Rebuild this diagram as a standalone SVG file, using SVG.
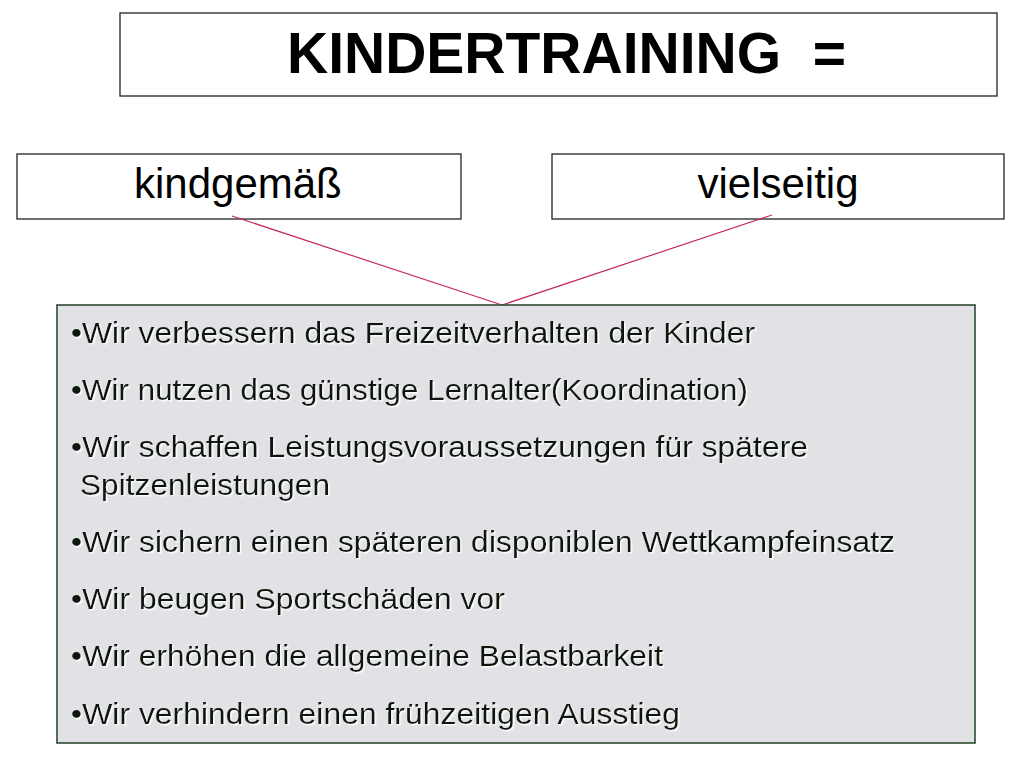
<svg xmlns="http://www.w3.org/2000/svg" width="1023" height="758" viewBox="0 0 1023 758">
<defs>
<style>
.box{fill:#ffffff;stroke:#222222;stroke-width:1.3}
.list{fill:#e2e1e5;stroke:#2e4a2e;stroke-width:1.6}
.title{font-family:"Liberation Sans",Arial,sans-serif;font-weight:bold;font-size:57px;fill:#000}
.head{font-family:"Liberation Sans",Arial,sans-serif;font-size:42px;fill:#000}
.item{font-family:"Liberation Sans",Arial,sans-serif;font-size:30px;fill:#0c170c;filter:url(#sh)}
.conn{stroke:#c42a68;stroke-width:1.2;fill:none}
</style>
<filter id="sh" x="-5%" y="-20%" width="110%" height="150%">
<feDropShadow dx="1.5" dy="1.5" stdDeviation="0.6" flood-color="#ffffff" flood-opacity="0.9"/>
</filter>
</defs>
<rect width="1023" height="758" fill="#ffffff"/>
<g id="title">
<rect class="box" x="120" y="13" width="877" height="83"/>
<text class="title" x="287" y="73" xml:space="preserve" textLength="559" lengthAdjust="spacingAndGlyphs">KINDERTRAINING  =</text>
</g>
<g id="kindgemaess">
<rect class="box" x="17" y="154" width="444" height="65"/>
<text class="head" x="134" y="198">kindgemäß</text>
</g>
<g id="vielseitig">
<rect class="box" x="552" y="154" width="452" height="65"/>
<text class="head" x="778" y="198" text-anchor="middle">vielseitig</text>
</g>
<g id="connectors">
<line class="conn" x1="232" y1="216" x2="502" y2="305"/>
<line class="conn" x1="772" y1="215" x2="502" y2="305"/>
</g>
<g id="liste">
<rect class="list" x="57" y="305" width="918" height="438"/>
<text class="item" x="71" y="343" textLength="684" lengthAdjust="spacingAndGlyphs">•Wir verbessern das Freizeitverhalten der Kinder</text>
<text class="item" x="71" y="400" textLength="677" lengthAdjust="spacingAndGlyphs">•Wir nutzen das günstige Lernalter(Koordination)</text>
<text class="item" x="71" y="457" textLength="737" lengthAdjust="spacingAndGlyphs">•Wir schaffen Leistungsvoraussetzungen für spätere</text>
<text class="item" x="80" y="495" textLength="250" lengthAdjust="spacingAndGlyphs">Spitzenleistungen</text>
<text class="item" x="71" y="552" textLength="824" lengthAdjust="spacingAndGlyphs">•Wir sichern einen späteren disponiblen Wettkampfeinsatz</text>
<text class="item" x="71" y="609" textLength="434" lengthAdjust="spacingAndGlyphs">•Wir beugen Sportschäden vor</text>
<text class="item" x="71" y="666" textLength="592" lengthAdjust="spacingAndGlyphs">•Wir erhöhen die allgemeine Belastbarkeit</text>
<text class="item" x="71" y="724" textLength="609" lengthAdjust="spacingAndGlyphs">•Wir verhindern einen frühzeitigen Ausstieg</text>
</g>
</svg>
